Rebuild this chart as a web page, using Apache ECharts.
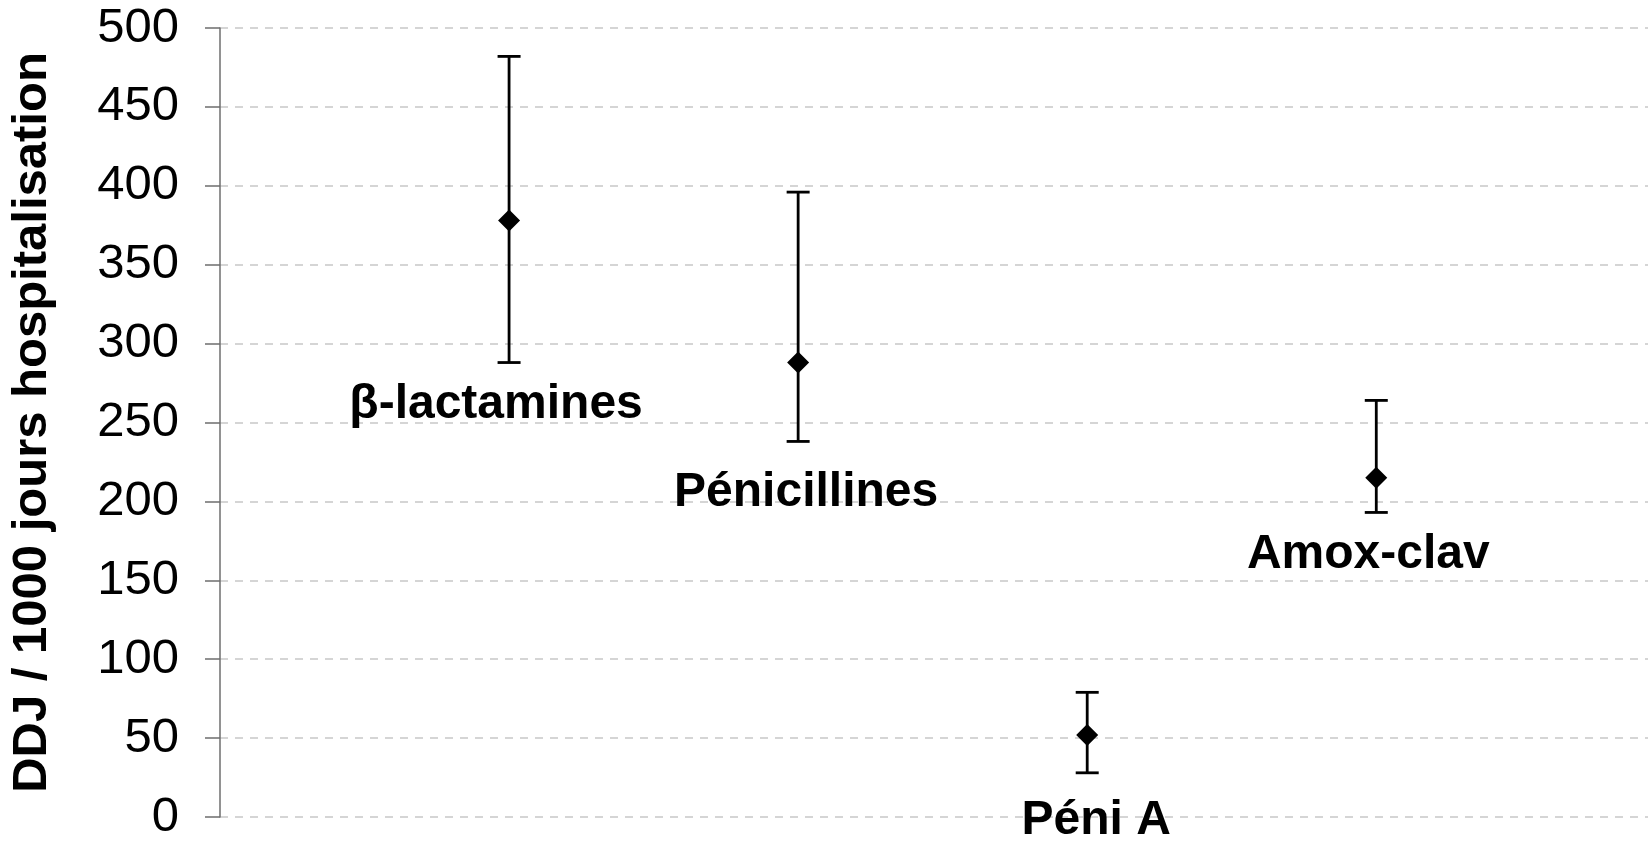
<!DOCTYPE html>
<html>
<head>
<meta charset="utf-8">
<script src="https://cdn.jsdelivr.net/npm/echarts@6/dist/echarts.min.js"></script>
<style>
  html, body { margin: 0; padding: 0; background: #ffffff; }
  #chart { width: 1648px; height: 846px; }
</style>
</head>
<body>
<div id="chart"></div>
<script>
// ---- data ----
const categories = ['β-lactamines', 'Pénicillines', 'Péni A', 'Amox-clav'];
const centralValues = [378, 288, 52, 215];
const upperValues = [482, 396, 79, 264];
const lowerValues = [288, 238, 28, 193];
const yAxisTitle = 'DDJ / 1000 jours hospitalisation';
const yMin = 0, yMax = 500, yInterval = 50;

// ---- style (label offsets in px from the lower whisker end) ----
const labelOffsets = [[-13, 42], [8, 51], [9, 48], [-8, 42]];
const FONT = '"Liberation Sans", Arial, sans-serif';

const chart = echarts.init(document.getElementById('chart'), null, { renderer: 'canvas' });

const barData = categories.map((c, i) => [i + 1, lowerValues[i], upperValues[i], i]);
const pointData = categories.map((c, i) => [i + 1, centralValues[i]]);

const option = {
  animation: false,
  backgroundColor: '#ffffff',
  grid: { left: 220, right: 0, top: 28, bottom: 29, containLabel: false },
  xAxis: {
    type: 'value', min: 0, max: 4.94,
    show: false,
    splitLine: { show: false }
  },
  yAxis: {
    type: 'value', min: yMin, max: yMax, interval: yInterval,
    name: yAxisTitle,
    nameLocation: 'middle',
    nameGap: 163,
    nameRotate: 90,
    nameTextStyle: { fontFamily: FONT, fontSize: 49, fontWeight: 'bold', color: '#000' },
    axisLine: { show: true, lineStyle: { color: '#6e6e6e', width: 1.5 } },
    axisTick: { show: true, length: 15, lineStyle: { color: '#6e6e6e', width: 1.5 } },
    axisLabel: { fontFamily: FONT, fontSize: 49, color: '#000', margin: 41 },
    splitLine: { show: true, lineStyle: { color: '#c8c8c8', width: 1.5, type: [8, 7] } }
  },
  series: [
    {
      type: 'custom',
      data: barData,
      z: 2,
      renderItem: function (params, api) {
        const x = api.value(0);
        const lo = api.coord([x, api.value(1)]);
        const hi = api.coord([x, api.value(2)]);
        const idx = api.value(3);
        const half = 11.5;
        const ls = { stroke: '#000', lineWidth: 2.8 };
        const off = labelOffsets[idx];
        return {
          type: 'group',
          children: [
            { type: 'line', shape: { x1: lo[0], y1: lo[1], x2: hi[0], y2: hi[1] }, style: ls },
            { type: 'line', shape: { x1: hi[0] - half, y1: hi[1], x2: hi[0] + half, y2: hi[1] }, style: ls },
            { type: 'line', shape: { x1: lo[0] - half, y1: lo[1], x2: lo[0] + half, y2: lo[1] }, style: ls },
            {
              type: 'text',
              x: lo[0] + off[0],
              y: lo[1] + off[1],
              style: {
                text: categories[idx],
                fontFamily: FONT,
                fontSize: 48,
                fontWeight: 'bold',
                fill: '#000',
                align: 'center',
                verticalAlign: 'middle'
              }
            }
          ]
        };
      }
    },
    {
      type: 'scatter',
      data: pointData,
      symbol: 'diamond',
      symbolSize: [22, 22],
      itemStyle: { color: '#000', opacity: 1 },
      z: 3
    }
  ]
};

chart.setOption(option);
</script>
</body>
</html>
